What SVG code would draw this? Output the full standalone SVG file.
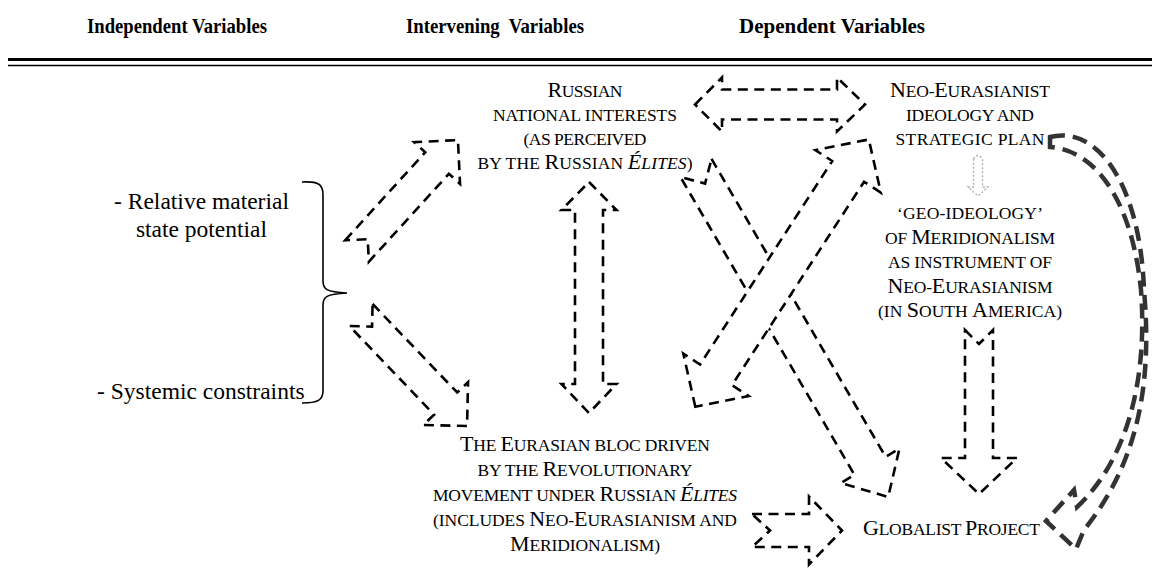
<svg xmlns="http://www.w3.org/2000/svg" width="1152" height="569" viewBox="0 0 1152 569">
<style>
  .hdr{font-family:"Liberation Serif","Times New Roman",serif;font-weight:bold;font-size:21px;text-anchor:middle;fill:#000}
  .lbl{font-family:"Liberation Serif","Times New Roman",serif;font-size:23.5px;fill:#000}
  .sc{font-family:"Liberation Serif","Times New Roman",serif;font-size:17.5px;text-anchor:middle;fill:#000}
  .c{font-size:22px}
  .it{font-style:italic}
  .blk{fill:#fff;stroke:#000;stroke-width:2.6;stroke-dasharray:10 6.5;stroke-linejoin:miter}
  .arc{fill:none;stroke:#333;stroke-width:4.5;stroke-dasharray:15 8}
  .faint{fill:none;stroke:#aaa;stroke-width:1.3;stroke-dasharray:2 2}
  .rule{stroke:#000}
</style>
<rect width="1152" height="569" fill="#fff"/>

<!-- column headings -->
<g id="headings">
  <text class="hdr" x="177" y="33" textLength="180" lengthAdjust="spacingAndGlyphs">Independent Variables</text>
  <text class="hdr" x="495" y="33" textLength="178" lengthAdjust="spacingAndGlyphs" xml:space="preserve">Intervening  Variables</text>
  <text class="hdr" x="832" y="33" textLength="186" lengthAdjust="spacingAndGlyphs">Dependent Variables</text>
  <line class="rule" x1="8" y1="59.5" x2="1152" y2="59.5" stroke-width="3"/>
  <line class="rule" x1="8" y1="65.5" x2="1152" y2="65.5" stroke-width="1.6"/>
</g>

<!-- block arrows -->
<g id="connectors">
  <!-- notched arrow up-right towards national interests -->
  <path class="blk" transform="translate(357,251) rotate(-47.7)" d="M0,-16 L119,-16 L119,-31 L150,0 L119,31 L119,16 L0,16 L16,0 Z"/>
  <!-- notched arrow down-right towards the Eurasian bloc -->
  <path class="blk" transform="translate(361,315) rotate(46.3)" d="M0,-16 L122.5,-16 L122.5,-31 L153.5,0 L122.5,31 L122.5,16 L0,16 L16,0 Z"/>
  <!-- vertical two-way arrow -->
  <path class="blk" d="M589,182 L616.5,210 L603,210 L603,384 L616.5,384 L589,413 L561.5,384 L575,384 L575,210 L561.5,210 Z"/>
  <!-- horizontal two-way arrow at the top -->
  <path class="blk" d="M695,104.5 L722,77.5 L722,89.5 L837,89.5 L837,77.5 L865,104.5 L837,131.5 L837,119.5 L722,119.5 L722,131.5 Z"/>
  <!-- diagonal notched arrow to the globalist project -->
  <path class="blk" transform="translate(696,168) rotate(59.7)" d="M0,-18 L345,-18 L345,-34 L381,0 L345,34 L345,18 L0,18 L18,0 Z"/>
  <!-- crossing two-way diagonal arrow -->
  <path class="blk" transform="translate(695.3,406.7) rotate(-57)" d="M0,0 L38,-39 L38,-19 L280.6,-19 L280.6,-39 L318.6,0 L280.6,39 L280.6,19 L38,19 L38,39 Z"/>
  <!-- downward notched arrow under the geo-ideology box -->
  <path class="blk" d="M965,330 L979,344 L993,330 L993,458 L1017,458 L979,494 L941,458 L965,458 Z"/>
  <!-- notched arrow from the bloc to the globalist project -->
  <path class="blk" d="M752,514 L809,514 L809,496.5 L842,530.5 L809,564.5 L809,547 L752,547 L770,530.5 Z"/>
  <!-- small faint arrow between plan and geo-ideology -->
  <path class="faint" d="M973.5,159 Q978,152 982.5,159 L982.5,187 L988,187 L978,196 L968,187 L973.5,187 Z"/>
  <!-- large curved return arrow -->
  <path class="arc" d="M1050,137 C1095,125 1140,180 1144,290 C1152,380 1140,460 1084,530 L1076,549 L1046,521 L1074,490 L1077,507 C1132,455 1147,370 1141,290 C1132,200 1095,150 1050,147 Z"/>
</g>

<!-- independent variables -->
<g id="independent">
  <text class="lbl" x="201.5" y="209" text-anchor="middle">- Relative material</text>
  <text class="lbl" x="201.5" y="237" text-anchor="middle">state potential</text>
  <text class="lbl" x="97" y="399">- Systemic constraints</text>
  <path d="M302,182 C318,181 323,184 323,195 L323,281 C323,289 326,292 347,293 C326,294 323,297 323,305 L323,391 C323,400 318,403 302,403" fill="none" stroke="#000" stroke-width="1.6"/>
</g>

<g id="russian-interests">
  <text class="sc" x="585" y="97" textLength="75" lengthAdjust="spacing"><tspan class="c">R</tspan>USSIAN</text>
  <text class="sc" x="585" y="121" textLength="184" lengthAdjust="spacing">NATIONAL INTERESTS</text>
  <text class="sc" x="585" y="145" textLength="123" lengthAdjust="spacing">(AS PERCEIVED</text>
  <text class="sc" x="585" y="169" textLength="215" lengthAdjust="spacing">BY THE <tspan class="c">R</tspan>USSIAN <tspan class="it"><tspan class="c">É</tspan>LITES</tspan>)</text>
</g>

<g id="neo-eurasianist">
  <text class="sc" x="970" y="97" textLength="160" lengthAdjust="spacing"><tspan class="c">N</tspan>EO-<tspan class="c">E</tspan>URASIANIST</text>
  <text class="sc" x="970" y="121" textLength="128" lengthAdjust="spacing">IDEOLOGY AND</text>
  <text class="sc" x="970" y="145" textLength="149" lengthAdjust="spacing">STRATEGIC PLAN</text>
</g>

<g id="geo-ideology">
  <text class="sc" x="970" y="219" textLength="146" lengthAdjust="spacing">‘GEO-IDEOLOGY’</text>
  <text class="sc" x="970" y="243.5" textLength="170" lengthAdjust="spacing">OF <tspan class="c">M</tspan>ERIDIONALISM</text>
  <text class="sc" x="970" y="268" textLength="164" lengthAdjust="spacing">AS INSTRUMENT OF</text>
  <text class="sc" x="970" y="292.5" textLength="165" lengthAdjust="spacing"><tspan class="c">N</tspan>EO-<tspan class="c">E</tspan>URASIANISM</text>
  <text class="sc" x="970" y="317" textLength="184" lengthAdjust="spacing">(IN <tspan class="c">S</tspan>OUTH <tspan class="c">A</tspan>MERICA)</text>
</g>

<g id="eurasian-bloc">
  <text class="sc" x="585" y="451" textLength="250" lengthAdjust="spacing"><tspan class="c">T</tspan>HE <tspan class="c">E</tspan>URASIAN BLOC DRIVEN</text>
  <text class="sc" x="585" y="476" textLength="215" lengthAdjust="spacing">BY THE <tspan class="c">R</tspan>EVOLUTIONARY</text>
  <text class="sc" x="585" y="501" textLength="304" lengthAdjust="spacing">MOVEMENT UNDER <tspan class="c">R</tspan>USSIAN <tspan class="it"><tspan class="c">É</tspan>LITES</tspan></text>
  <text class="sc" x="585" y="526" textLength="304" lengthAdjust="spacing">(INCLUDES <tspan class="c">N</tspan>EO-<tspan class="c">E</tspan>URASIANISM AND</text>
  <text class="sc" x="585" y="551" textLength="150" lengthAdjust="spacing"><tspan class="c">M</tspan>ERIDIONALISM)</text>
</g>

<g id="globalist-project">
  <text class="sc" x="951.5" y="535" textLength="177" lengthAdjust="spacing"><tspan class="c">G</tspan>LOBALIST <tspan class="c">P</tspan>ROJECT</text>
</g>
</svg>
